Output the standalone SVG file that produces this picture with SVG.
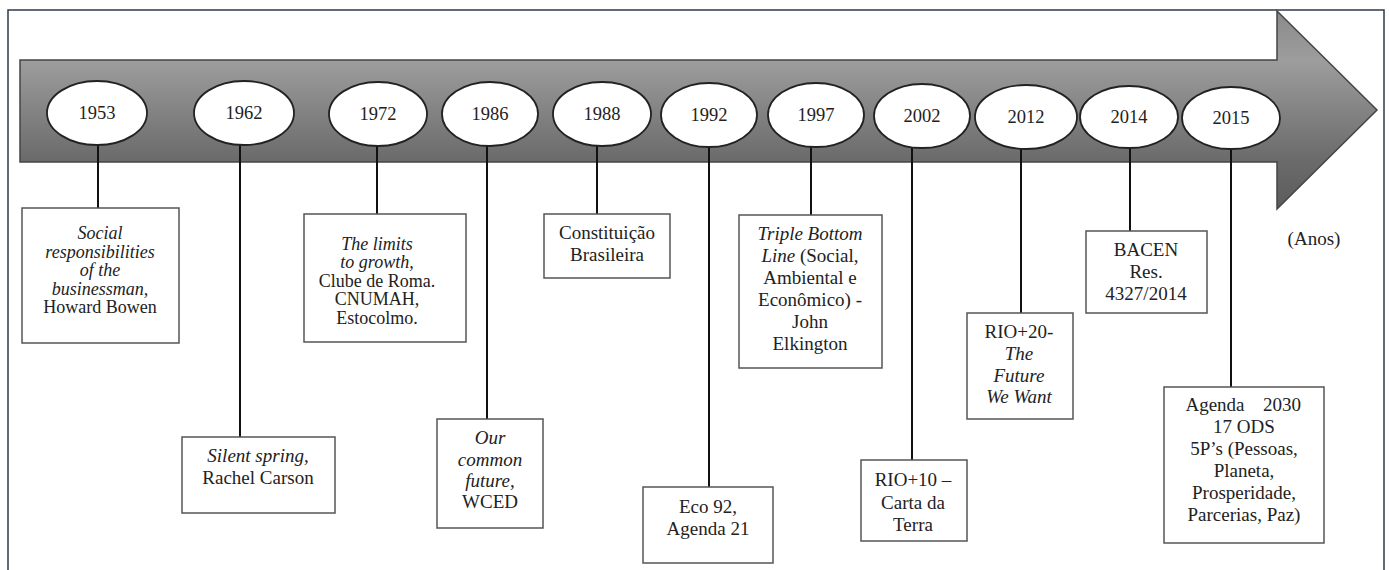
<svg xmlns="http://www.w3.org/2000/svg" width="1389" height="570" viewBox="0 0 1389 570">
<style>
text{font-family:"Liberation Serif","Times New Roman",serif;fill:#222;text-anchor:middle}
.yr{font-size:18.5px}
.t{font-size:19px}
.s{font-size:18px}
.i{font-style:italic}
.box{fill:#fff;stroke:#555;stroke-width:1.5}
.ell{fill:#fff;stroke:#222;stroke-width:1.8}
.stem{stroke:#111;stroke-width:2;fill:none}
</style>
<defs>
<linearGradient id="g" gradientUnits="userSpaceOnUse" x1="0" y1="11" x2="0" y2="209">
<stop offset="0" stop-color="#8a8a8a"/>
<stop offset="0.25" stop-color="#9d9d9d"/>
<stop offset="0.76" stop-color="#6a6a6a"/>
<stop offset="1" stop-color="#5c5c5c"/>
</linearGradient>
</defs>
<rect x="0" y="0" width="1389" height="570" fill="#fff"/>
<rect x="8" y="10" width="1376" height="570" fill="none" stroke="#2f3a4a" stroke-width="1.5"/>
<polygon id="arrow" points="20,60 1277,60 1277,11 1377,110 1277,209 1277,162 20,162" fill="url(#g)" stroke="#444" stroke-width="1.5"/>
<g id="connectors">
<line class="stem" x1="98" y1="113" x2="98" y2="208"/>
<line class="stem" x1="240" y1="113" x2="240" y2="437"/>
<line class="stem" x1="377" y1="114" x2="377" y2="214"/>
<line class="stem" x1="487" y1="114" x2="487" y2="419"/>
<line class="stem" x1="597" y1="114" x2="597" y2="214"/>
<line class="stem" x1="709" y1="114" x2="709" y2="487"/>
<line class="stem" x1="811" y1="115" x2="811" y2="215"/>
<line class="stem" x1="912" y1="115" x2="912" y2="460"/>
<line class="stem" x1="1021" y1="116" x2="1021" y2="313"/>
<line class="stem" x1="1130" y1="117" x2="1130" y2="231"/>
<line class="stem" x1="1231" y1="118" x2="1231" y2="387"/>
</g>
<g id="y1953"><ellipse class="ell" cx="97" cy="113" rx="50" ry="32"/><text class="yr" x="97" y="119">1953</text></g>
<g id="y1962"><ellipse class="ell" cx="244" cy="113" rx="50" ry="32"/><text class="yr" x="244" y="119">1962</text></g>
<g id="y1972"><ellipse class="ell" cx="378" cy="114" rx="49" ry="32"/><text class="yr" x="378" y="120">1972</text></g>
<g id="y1986"><ellipse class="ell" cx="490" cy="114" rx="48" ry="32"/><text class="yr" x="490" y="120">1986</text></g>
<g id="y1988"><ellipse class="ell" cx="602" cy="114" rx="49" ry="32"/><text class="yr" x="602" y="120">1988</text></g>
<g id="y1992"><ellipse class="ell" cx="709" cy="115" rx="48" ry="32"/><text class="yr" x="709" y="121">1992</text></g>
<g id="y1997"><ellipse class="ell" cx="816" cy="115" rx="48" ry="32"/><text class="yr" x="816" y="121">1997</text></g>
<g id="y2002"><ellipse class="ell" cx="922" cy="116" rx="48" ry="32"/><text class="yr" x="922" y="122">2002</text></g>
<g id="y2012"><ellipse class="ell" cx="1026" cy="117" rx="51" ry="32"/><text class="yr" x="1026" y="123">2012</text></g>
<g id="y2014"><ellipse class="ell" cx="1129" cy="117" rx="49" ry="31"/><text class="yr" x="1129" y="123">2014</text></g>
<g id="y2015"><ellipse class="ell" cx="1231" cy="118" rx="49" ry="31"/><text class="yr" x="1231" y="124">2015</text></g>

<g id="b1953"><rect class="box" x="22" y="208" width="157" height="135"/>
<text class="s" x="100"><tspan class="i" x="100" y="239">Social</tspan><tspan class="i" x="100" y="257.5">responsibilities</tspan><tspan class="i" x="100" y="276">of the</tspan><tspan class="i" x="100" y="294.5">businessman,</tspan><tspan x="100" y="313">Howard Bowen</tspan></text></g>
<g id="b1962"><rect class="box" x="182" y="437" width="153" height="76"/>
<text class="t" x="258"><tspan class="i" x="258" y="462">Silent spring,</tspan><tspan x="258" y="484">Rachel Carson</tspan></text></g>
<g id="b1972"><rect class="box" x="304" y="214" width="162" height="128"/>
<text class="s" x="377"><tspan class="i" x="377" y="249.5">The limits</tspan><tspan class="i" x="377" y="268">to growth,</tspan><tspan x="377" y="286.5">Clube de Roma.</tspan><tspan x="377" y="305">CNUMAH,</tspan><tspan x="377" y="323.5">Estocolmo.</tspan></text></g>
<g id="b1986"><rect class="box" x="437" y="419" width="106" height="109"/>
<text class="t" x="490"><tspan class="i" x="490" y="444">Our</tspan><tspan class="i" x="490" y="466">common</tspan><tspan class="i" x="490" y="487">future,</tspan><tspan x="490" y="508">WCED</tspan></text></g>
<g id="b1988"><rect class="box" x="544" y="214" width="126" height="64"/>
<text class="t" x="607"><tspan x="607" y="239">Constituição</tspan><tspan x="607" y="261">Brasileira</tspan></text></g>
<g id="b1992"><rect class="box" x="643" y="487" width="130" height="76"/>
<text class="t" x="708"><tspan x="708" y="513">Eco 92,</tspan><tspan x="708" y="535">Agenda 21</tspan></text></g>
<g id="b1997"><rect class="box" x="739" y="215" width="143" height="153"/>
<text class="t" x="810"><tspan class="i" x="810" y="239.5">Triple Bottom</tspan><tspan x="810" y="261.5"><tspan class="i">Line</tspan> (Social,</tspan><tspan x="810" y="283.5">Ambiental e</tspan><tspan x="810" y="305.5">Econômico) -</tspan><tspan x="810" y="327.5">John</tspan><tspan x="810" y="349.5">Elkington</tspan></text></g>
<g id="b2002"><rect class="box" x="861" y="460" width="106" height="81"/>
<text class="t" x="913"><tspan x="913" y="486">RIO+10 –</tspan><tspan x="913" y="508.5">Carta da</tspan><tspan x="913" y="531">Terra</tspan></text></g>
<g id="b2012"><rect class="box" x="967" y="313" width="106" height="106"/>
<text class="t" x="1019"><tspan x="1019" y="337.5">RIO+20-</tspan><tspan class="i" x="1019" y="359.5">The</tspan><tspan class="i" x="1019" y="381.5">Future</tspan><tspan class="i" x="1019" y="403">We Want</tspan></text></g>
<g id="b2014"><rect class="box" x="1086" y="231" width="121" height="82"/>
<text class="t" x="1146"><tspan x="1146" y="256">BACEN</tspan><tspan x="1146" y="278">Res.</tspan><tspan x="1146" y="300">4327/2014</tspan></text></g>
<g id="b2015"><rect class="box" x="1164" y="387" width="160" height="156"/>
<text class="t" x="1244"><tspan x="1215" y="411">Agenda</tspan><tspan x="1282" y="411">2030</tspan><tspan x="1244" y="433">17 ODS</tspan><tspan x="1244" y="455">5P’s (Pessoas,</tspan><tspan x="1244" y="477">Planeta,</tspan><tspan x="1244" y="499">Prosperidade,</tspan><tspan x="1244" y="521">Parcerias, Paz)</tspan></text></g>
<text id="anos" class="t" x="1314" y="245">(Anos)</text>
</svg>
